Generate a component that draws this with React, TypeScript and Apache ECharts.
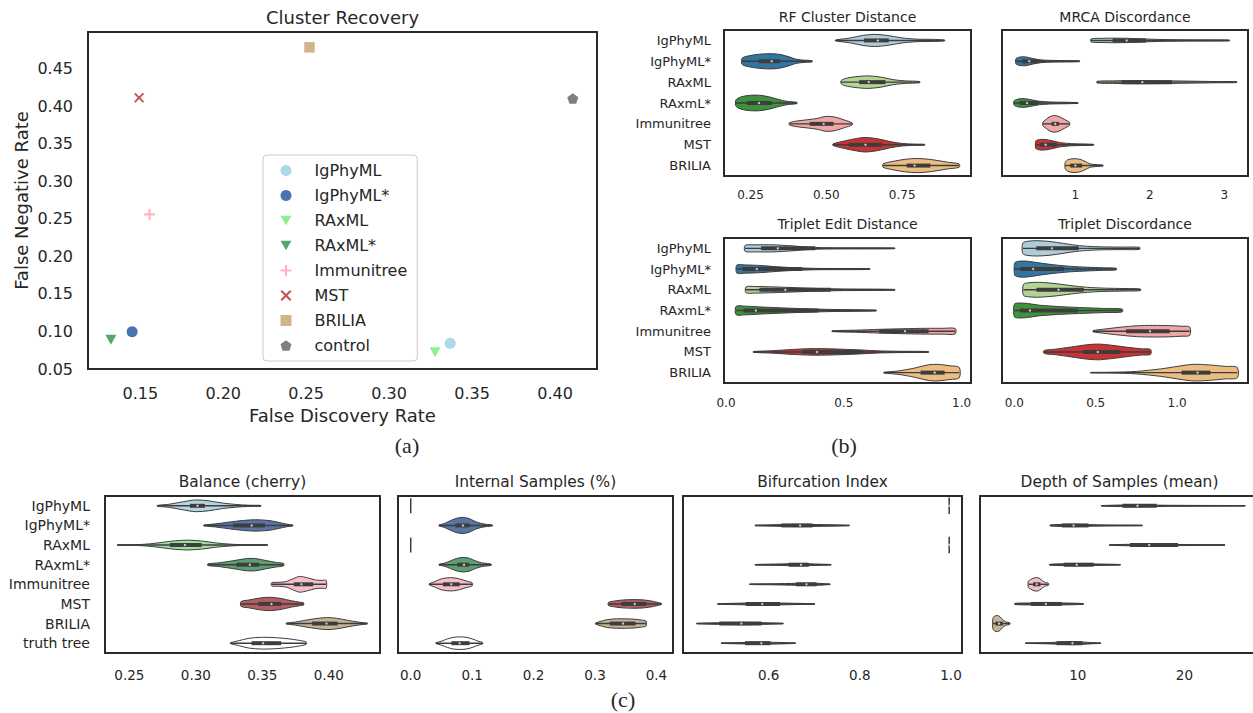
import React, { useEffect, useRef } from 'react';
import * as echarts from 'echarts';

// ---------- Panel (a): Cluster Recovery ----------
const clusterMethods = ['IgPhyML', 'IgPhyML*', 'RAxML', 'RAxML*', 'Immunitree', 'MST', 'BRILIA', 'control'];
const falseDiscoveryRate = [0.3368, 0.1451, 0.3277, 0.1323, 0.1556, 0.1493, 0.252, 0.4107];
const falseNegativeRate = [0.0842, 0.0996, 0.0722, 0.089, 0.256, 0.4113, 0.4786, 0.4104];
const clusterColors = ['#add8e6', '#4c72b0', '#90ee90', '#55a868', '#ffb6c1', '#c44e52', '#d2b48c', '#7f7f7f'];
const fdrTicks = [0.15, 0.2, 0.25, 0.3, 0.35, 0.4];
const fnrTicks = [0.05, 0.1, 0.15, 0.2, 0.25, 0.3, 0.35, 0.4, 0.45];

// ---------- Panel (b) ----------
const methodsB = ['IgPhyML', 'IgPhyML*', 'RAxML', 'RAxmL*', 'Immunitree', 'MST', 'BRILIA'];
const colorsB = ['#aeccdb', '#3275a1', '#b3d495', '#40913b', '#efa6a5', '#ca3335', '#ebbd81'];

// profiles: [value, relative half width]; boxes: [whiskerLow, q1, median, q3, whiskerHigh]
const rfProfiles = [
  [[0.53, 0.02], [0.58, 0.12], [0.62, 0.24], [0.66, 0.29], [0.70, 0.24], [0.75, 0.12], [0.80, 0.06], [0.85, 0.05], [0.89, 0.02]],
  [[0.222, 0.14], [0.24, 0.25], [0.28, 0.34], [0.32, 0.365], [0.35, 0.32], [0.38, 0.2], [0.40, 0.1], [0.43, 0.05], [0.453, 0.03]],
  [[0.549, 0.08], [0.57, 0.2], [0.61, 0.28], [0.64, 0.3], [0.68, 0.24], [0.72, 0.12], [0.76, 0.06], [0.808, 0.03]],
  [[0.202, 0.15], [0.22, 0.3], [0.25, 0.37], [0.28, 0.37], [0.31, 0.3], [0.34, 0.18], [0.37, 0.08], [0.403, 0.03]],
  [[0.378, 0.05], [0.40, 0.13], [0.44, 0.2], [0.47, 0.26], [0.50, 0.36], [0.53, 0.32], [0.56, 0.18], [0.585, 0.05]],
  [[0.522, 0.04], [0.56, 0.18], [0.60, 0.3], [0.63, 0.35], [0.67, 0.28], [0.71, 0.15], [0.75, 0.06], [0.79, 0.03], [0.824, 0.02]],
  [[0.687, 0.08], [0.72, 0.2], [0.76, 0.3], [0.80, 0.34], [0.85, 0.28], [0.90, 0.16], [0.938, 0.08]],
];
const rfBoxes = [
  [0.53, 0.624, 0.67, 0.706, 0.89],
  [0.222, 0.276, 0.32, 0.348, 0.453],
  [0.549, 0.608, 0.64, 0.695, 0.808],
  [0.202, 0.238, 0.278, 0.32, 0.403],
  [0.378, 0.445, 0.491, 0.524, 0.585],
  [0.522, 0.574, 0.629, 0.684, 0.824],
  [0.687, 0.765, 0.791, 0.843, 0.938],
];
const rfTicks = [0.25, 0.5, 0.75];

const mrcaProfiles = [
  [[1.21, 0.07], [1.35, 0.1], [1.55, 0.11], [1.8, 0.09], [2.1, 0.05], [2.5, 0.03], [3.07, 0.02]],
  [[0.2, 0.12], [0.25, 0.2], [0.33, 0.21], [0.42, 0.14], [0.52, 0.07], [0.7, 0.04], [1.056, 0.02]],
  [[1.29, 0.04], [1.5, 0.06], [1.8, 0.075], [2.1, 0.07], [2.5, 0.05], [2.9, 0.03], [3.17, 0.02]],
  [[0.175, 0.1], [0.22, 0.18], [0.3, 0.21], [0.4, 0.16], [0.5, 0.09], [0.65, 0.05], [1.035, 0.02]],
  [[0.563, 0.08], [0.6, 0.2], [0.66, 0.35], [0.72, 0.4], [0.78, 0.35], [0.85, 0.22], [0.9, 0.12], [0.922, 0.06]],
  [[0.468, 0.18], [0.52, 0.25], [0.6, 0.25], [0.7, 0.18], [0.8, 0.1], [0.95, 0.05], [1.245, 0.02]],
  [[0.863, 0.15], [0.9, 0.28], [0.98, 0.33], [1.06, 0.3], [1.13, 0.2], [1.2, 0.08], [1.3, 0.04], [1.372, 0.02]],
];
const mrcaBoxes = [
  [1.21, 1.5, 1.69, 1.95, 3.07],
  [0.2, 0.28, 0.38, 0.52, 1.056],
  [1.29, 1.62, 1.9, 2.3, 3.17],
  [0.175, 0.25, 0.35, 0.5, 1.035],
  [0.563, 0.68, 0.73, 0.78, 0.922],
  [0.468, 0.52, 0.6, 0.75, 1.245],
  [0.863, 0.93, 1.0, 1.09, 1.372],
];
const mrcaTicks = [1, 2, 3];

const tedProfiles = [
  [[0.081, 0.14], [0.12, 0.17], [0.2, 0.17], [0.28, 0.12], [0.36, 0.05], [0.45, 0.03], [0.716, 0.02]],
  [[0.046, 0.19], [0.08, 0.2], [0.15, 0.17], [0.22, 0.11], [0.3, 0.06], [0.4, 0.03], [0.611, 0.02]],
  [[0.085, 0.14], [0.12, 0.16], [0.2, 0.14], [0.3, 0.1], [0.4, 0.06], [0.5, 0.04], [0.717, 0.02]],
  [[0.043, 0.2], [0.08, 0.21], [0.15, 0.17], [0.25, 0.12], [0.35, 0.08], [0.45, 0.05], [0.638, 0.02]],
  [[0.45, 0.02], [0.55, 0.05], [0.65, 0.09], [0.75, 0.12], [0.85, 0.14], [0.92, 0.14], [0.973, 0.13]],
  [[0.116, 0.02], [0.2, 0.06], [0.3, 0.13], [0.38, 0.16], [0.47, 0.14], [0.56, 0.1], [0.65, 0.05], [0.75, 0.03], [0.86, 0.02]],
  [[0.67, 0.02], [0.73, 0.08], [0.8, 0.22], [0.86, 0.38], [0.9, 0.4], [0.95, 0.33], [0.99, 0.25]],
];
const tedBoxes = [
  [0.081, 0.149, 0.22, 0.379, 0.716],
  [0.046, 0.07, 0.131, 0.323, 0.611],
  [0.085, 0.142, 0.252, 0.445, 0.717],
  [0.043, 0.075, 0.127, 0.391, 0.638],
  [0.45, 0.65, 0.76, 0.86, 0.973],
  [0.116, 0.323, 0.387, 0.58, 0.86],
  [0.67, 0.826, 0.886, 0.928, 0.99],
];
const tedTicks = [0, 0.5, 1.0];

const tdProfiles = [
  [[0.052, 0.25], [0.08, 0.34], [0.14, 0.37], [0.22, 0.33], [0.3, 0.24], [0.4, 0.13], [0.5, 0.08], [0.65, 0.06], [0.77, 0.05]],
  [[0.003, 0.3], [0.03, 0.38], [0.08, 0.38], [0.15, 0.3], [0.25, 0.2], [0.35, 0.13], [0.45, 0.09], [0.55, 0.06], [0.626, 0.04]],
  [[0.056, 0.26], [0.09, 0.34], [0.15, 0.36], [0.25, 0.3], [0.35, 0.2], [0.45, 0.12], [0.55, 0.08], [0.68, 0.06], [0.775, 0.04]],
  [[0.0, 0.3], [0.03, 0.36], [0.08, 0.34], [0.15, 0.26], [0.25, 0.2], [0.35, 0.16], [0.45, 0.13], [0.55, 0.1], [0.663, 0.07]],
  [[0.484, 0.03], [0.55, 0.1], [0.65, 0.19], [0.75, 0.26], [0.85, 0.28], [0.95, 0.27], [1.03, 0.24], [1.078, 0.2]],
  [[0.183, 0.07], [0.25, 0.13], [0.35, 0.24], [0.45, 0.35], [0.52, 0.38], [0.6, 0.32], [0.7, 0.22], [0.78, 0.15], [0.837, 0.12]],
  [[0.468, 0.01], [0.6, 0.02], [0.75, 0.06], [0.9, 0.18], [1.0, 0.3], [1.1, 0.4], [1.2, 0.37], [1.3, 0.3], [1.37, 0.25]],
];
const tdBoxes = [
  [0.052, 0.135, 0.231, 0.396, 0.77],
  [0.003, 0.038, 0.116, 0.305, 0.626],
  [0.056, 0.136, 0.272, 0.427, 0.775],
  [0.0, 0.034, 0.096, 0.39, 0.663],
  [0.484, 0.687, 0.834, 0.955, 1.078],
  [0.183, 0.422, 0.513, 0.652, 0.837],
  [0.468, 1.028, 1.126, 1.205, 1.37],
];
const tdTicks = [0, 0.5, 1.0];

// ---------- Panel (c) ----------
const methodsC = ['IgPhyML', 'IgPhyML*', 'RAxML', 'RAxmL*', 'Immunitree', 'MST', 'BRILIA', 'truth tree'];
const colorsC = ['#b4d4df', '#5875a3', '#9ce29c', '#5f9e6e', '#f6bfc7', '#b55d60', '#c9b395', '#ffffff'];

const balanceProfiles = [
  [[0.271, 0.02], [0.28, 0.08], [0.29, 0.2], [0.3, 0.3], [0.31, 0.25], [0.32, 0.14], [0.33, 0.07], [0.34, 0.03], [0.349, 0.02]],
  [[0.306, 0.02], [0.315, 0.08], [0.325, 0.17], [0.335, 0.25], [0.345, 0.29], [0.355, 0.25], [0.362, 0.16], [0.368, 0.07], [0.373, 0.02]],
  [[0.241, 0.01], [0.255, 0.02], [0.265, 0.06], [0.275, 0.14], [0.285, 0.22], [0.295, 0.25], [0.305, 0.2], [0.315, 0.11], [0.325, 0.05], [0.335, 0.02], [0.354, 0.01]],
  [[0.309, 0.04], [0.318, 0.1], [0.328, 0.2], [0.338, 0.31], [0.345, 0.31], [0.352, 0.22], [0.36, 0.12], [0.366, 0.06]],
  [[0.357, 0.08], [0.362, 0.1], [0.368, 0.14], [0.373, 0.28], [0.378, 0.4], [0.384, 0.33], [0.39, 0.22], [0.395, 0.2], [0.398, 0.2]],
  [[0.334, 0.12], [0.34, 0.2], [0.348, 0.3], [0.356, 0.34], [0.364, 0.28], [0.372, 0.16], [0.378, 0.09], [0.381, 0.06]],
  [[0.368, 0.02], [0.375, 0.08], [0.385, 0.2], [0.395, 0.29], [0.402, 0.3], [0.41, 0.22], [0.418, 0.12], [0.425, 0.05], [0.429, 0.02]],
  [[0.326, 0.02], [0.332, 0.12], [0.34, 0.25], [0.35, 0.3], [0.36, 0.28], [0.37, 0.22], [0.378, 0.14], [0.383, 0.06]],
];
const balanceBoxes = [
  [0.271, 0.2956, 0.3013, 0.3068, 0.349],
  [0.306, 0.328, 0.342, 0.352, 0.373],
  [0.241, 0.2805, 0.2918, 0.3043, 0.354],
  [0.309, 0.3306, 0.3406, 0.3478, 0.366],
  [0.357, 0.3737, 0.3794, 0.3882, 0.398],
  [0.334, 0.3469, 0.3569, 0.3642, 0.381],
  [0.368, 0.3875, 0.3983, 0.4066, 0.429],
  [0.326, 0.3419, 0.3506, 0.3642, 0.383],
];
const balanceTicks = [0.25, 0.3, 0.35, 0.4];

const internalProfiles = [
  [[0.0, 0.38]],
  [[0.046, 0.02], [0.055, 0.1], [0.065, 0.25], [0.075, 0.37], [0.085, 0.41], [0.095, 0.35], [0.105, 0.2], [0.115, 0.1], [0.125, 0.05], [0.133, 0.02]],
  [[0.0, 0.38]],
  [[0.046, 0.02], [0.055, 0.08], [0.065, 0.2], [0.075, 0.32], [0.085, 0.37], [0.095, 0.33], [0.105, 0.2], [0.115, 0.1], [0.125, 0.06], [0.131, 0.03]],
  [[0.03, 0.02], [0.04, 0.15], [0.05, 0.28], [0.06, 0.33], [0.07, 0.33], [0.08, 0.27], [0.09, 0.17], [0.1, 0.08]],
  [[0.322, 0.08], [0.33, 0.14], [0.345, 0.2], [0.365, 0.22], [0.38, 0.2], [0.395, 0.13], [0.403, 0.07], [0.408, 0.03]],
  [[0.301, 0.03], [0.31, 0.12], [0.32, 0.2], [0.335, 0.24], [0.35, 0.24], [0.365, 0.22], [0.375, 0.18], [0.383, 0.13]],
  [[0.041, 0.02], [0.05, 0.1], [0.06, 0.22], [0.07, 0.3], [0.08, 0.32], [0.09, 0.3], [0.1, 0.22], [0.11, 0.1], [0.117, 0.04]],
];
const internalBoxes = [
  null,
  [0.046, 0.0728, 0.085, 0.096, 0.133],
  null,
  [0.046, 0.0757, 0.0868, 0.0954, 0.131],
  [0.03, 0.0525, 0.066, 0.0796, 0.1],
  [0.322, 0.343, 0.3647, 0.3837, 0.408],
  [0.301, 0.324, 0.3456, 0.366, 0.383],
  [0.041, 0.0662, 0.0796, 0.0958, 0.117],
];
const internalTicks = [0, 0.1, 0.2, 0.3, 0.4];

const bifProfiles = [
  [[0.996, 0.42]],
  [[0.57, 0.01], [0.62, 0.04], [0.67, 0.06], [0.72, 0.04], [0.777, 0.01]],
  [[0.996, 0.42]],
  [[0.57, 0.01], [0.63, 0.04], [0.67, 0.06], [0.71, 0.03], [0.737, 0.01]],
  [[0.558, 0.01], [0.62, 0.03], [0.68, 0.06], [0.71, 0.05], [0.735, 0.01]],
  [[0.488, 0.01], [0.54, 0.04], [0.59, 0.06], [0.64, 0.04], [0.701, 0.01]],
  [[0.442, 0.01], [0.49, 0.04], [0.54, 0.06], [0.59, 0.04], [0.632, 0.01]],
  [[0.496, 0.01], [0.55, 0.04], [0.58, 0.06], [0.62, 0.04], [0.659, 0.01]],
];
const bifBoxes = [
  [0.996, 0.996, 0.996, 0.996, 0.996],
  [0.57, 0.628, 0.669, 0.696, 0.777],
  [0.996, 0.996, 0.996, 0.996, 0.996],
  [0.57, 0.644, 0.671, 0.688, 0.737],
  [0.558, 0.66, 0.683, 0.705, 0.735],
  [0.488, 0.55, 0.586, 0.625, 0.701],
  [0.442, 0.492, 0.54, 0.584, 0.632],
  [0.496, 0.548, 0.584, 0.604, 0.659],
];
const bifTicks = [0.6, 0.8, 1.0];

const depthProfiles = [
  [[12.2, 0.01], [14, 0.04], [15.5, 0.05], [18, 0.03], [21, 0.02], [25.7, 0.01]],
  [[7.4, 0.02], [8.5, 0.05], [9.6, 0.06], [11, 0.04], [13, 0.02], [16.05, 0.01]],
  [[12.96, 0.01], [15, 0.04], [16.7, 0.05], [19, 0.03], [21.5, 0.02], [23.8, 0.01]],
  [[7.35, 0.02], [8.7, 0.05], [10, 0.06], [11.5, 0.04], [14, 0.01]],
  [[5.36, 0.15], [5.6, 0.25], [6.0, 0.34], [6.3, 0.33], [6.6, 0.22], [6.9, 0.1], [7.25, 0.05]],
  [[4.09, 0.03], [5.5, 0.05], [7, 0.06], [8.5, 0.05], [10.52, 0.02]],
  [[2.03, 0.25], [2.2, 0.38], [2.45, 0.41], [2.7, 0.35], [2.95, 0.2], [3.2, 0.1], [3.45, 0.06], [3.64, 0.03]],
  [[5.09, 0.01], [7, 0.03], [8.5, 0.06], [9.5, 0.08], [10.5, 0.06], [11.3, 0.03], [12.16, 0.01]],
];
const depthBoxes = [
  [12.2, 14.2, 15.6, 17.4, 25.7],
  [7.4, 8.5, 9.6, 11.0, 16.05],
  [12.96, 14.9, 16.7, 19.4, 23.8],
  [7.35, 8.7, 9.9, 11.5, 14.0],
  [5.36, 5.8, 6.15, 6.5, 7.25],
  [4.09, 5.6, 7.0, 8.5, 10.52],
  [2.03, 2.27, 2.61, 2.96, 3.64],
  [5.09, 8.0, 9.5, 10.45, 12.16],
];
const depthTicks = [10, 20];

// ---------- Styling ----------
const FONT = 'DejaVu Sans';
const TXT = '#262626';
const GRAY = '#3d3d3d';
const BORDER = '#2a2a2a';

const SYMBOLS = [
  'circle',
  'circle',
  'path://M0,0L10,0L5,8.66Z',
  'path://M0,0L10,0L5,8.66Z',
  'path://M4,0H6V4H10V6H6V10H4V6H0V4H4Z',
  'path://M1.3,0L5,3.7L8.7,0L10,1.3L6.3,5L10,8.7L8.7,10L5,6.3L1.3,10L0,8.7L3.7,5L0,1.3Z',
  'rect',
  'path://M0.951,0L1.902,0.691L1.539,1.809L0.363,1.809L0,0.691Z',
];
const SYMBOL_SIZES: any[] = [11, 11, [11, 10], [11, 10], 11, 10, 10.5, [11, 10.5]];

function violinRender(profiles: any[], boxes: any[], colors: string[]) {
  return (params: any, api: any) => {
    const i = api.value(1);
    const prof = profiles[i];
    const band = api.size([0, 1])[1];
    const cy = api.coord([prof[0][0], i])[1];
    const children: any[] = [];
    if (prof.length === 1) {
      const x = api.coord([prof[0][0], i])[0];
      const h = prof[0][1] * band;
      children.push({ type: 'line', shape: { x1: x, y1: cy - h, x2: x, y2: cy + h }, style: { stroke: GRAY, lineWidth: 1.5 } });
    } else {
      const pts: number[][] = [];
      for (let k = 0; k < prof.length; k++) pts.push([api.coord([prof[k][0], i])[0], cy - prof[k][1] * band]);
      for (let k = prof.length - 1; k >= 0; k--) pts.push([api.coord([prof[k][0], i])[0], cy + prof[k][1] * band]);
      children.push({ type: 'polygon', shape: { points: pts, smooth: 0.3 }, style: { fill: colors[i], stroke: GRAY, lineWidth: 1 } });
    }
    const b = boxes[i];
    if (b) {
      const xs = b.map((v: number) => api.coord([v, i])[0]);
      children.push({ type: 'line', shape: { x1: xs[0], y1: cy, x2: xs[4], y2: cy }, style: { stroke: GRAY, lineWidth: 1.4 } });
      children.push({ type: 'line', shape: { x1: xs[1], y1: cy, x2: xs[3], y2: cy }, style: { stroke: GRAY, lineWidth: 4 } });
      children.push({ type: 'circle', shape: { cx: xs[2], cy: cy, r: 1.2 }, style: { fill: '#c8c8c8' } });
    }
    return { type: 'group', children };
  };
}

function grid(left: number, top: number, width: number, height: number) {
  return { left, top, width, height, show: true, borderColor: BORDER, borderWidth: 2, backgroundColor: 'transparent', containLabel: false, outerBoundsMode: 'none' };
}

function valueAxis(gridIndex: number, min: number, max: number, ticks: number[], digits: number, fontSize: number, margin: number) {
  return {
    type: 'value', gridIndex, min, max, scale: true,
    axisLine: { show: false }, axisTick: { show: false }, splitLine: { show: false },
    axisLabel: { customValues: ticks, formatter: (v: number) => v.toFixed(digits), fontSize, color: TXT, fontFamily: FONT, margin, showMinLabel: true, showMaxLabel: true },
  };
}

function catAxis(gridIndex: number, data: string[], show: boolean, fontSize: number, margin: number) {
  return {
    type: 'category', gridIndex, data, inverse: true,
    axisLine: { show: false }, axisTick: { show: false }, splitLine: { show: false },
    axisLabel: { show, fontSize, color: TXT, fontFamily: FONT, margin, interval: 0 },
  };
}

function violinSeries(axisIndex: number, profiles: any[], boxes: any[], colors: string[]) {
  return {
    type: 'custom', xAxisIndex: axisIndex, yAxisIndex: axisIndex,
    data: profiles.map((p: any, i: number) => [p[0][0], i]),
    encode: { x: 0, y: 1 },
    renderItem: violinRender(profiles, boxes, colors),
    silent: true,
  };
}

function label(x: number, y: number, text: string, fontSize: number, family = FONT, rotation = 0) {
  return {
    type: 'text', x, y, rotation, silent: true,
    style: { text, fontSize, fontFamily: family, fill: TXT, align: 'center', verticalAlign: 'middle' },
  };
}

export default function App() {
  const ref = useRef<HTMLDivElement>(null);
  useEffect(() => {
    if (!ref.current) return;
    const chart = echarts.init(ref.current, undefined, { renderer: 'svg' });
    const scatterSeries = clusterMethods.map((name, i) => ({
      name, type: 'scatter', xAxisIndex: 0, yAxisIndex: 0,
      data: [[falseDiscoveryRate[i], falseNegativeRate[i]]],
      symbol: SYMBOLS[i], symbolSize: SYMBOL_SIZES[i],
      itemStyle: { color: clusterColors[i], opacity: 1 },
    }));
    const option: any = {
      animation: false,
      backgroundColor: '#ffffff',
      textStyle: { fontFamily: FONT },
      grid: [
        grid(88, 32, 509, 337),
        grid(724, 30, 247, 146),
        grid(1002, 30, 246, 146),
        grid(724, 238, 247, 145),
        grid(1002, 238, 246, 145),
        grid(105, 496, 275, 157),
        grid(398, 496, 275, 157),
        grid(683, 496, 279, 157),
        grid(980, 496, 279, 157),
      ],
      xAxis: [
        valueAxis(0, 0.1185, 0.4253, fdrTicks, 2, 16, 16),
        valueAxis(1, 0.1625, 0.977, rfTicks, 2, 12, 13),
        valueAxis(2, 0.0132, 3.32, mrcaTicks, 0, 12, 13),
        valueAxis(3, -0.0084, 1.04, tedTicks, 1, 12, 14),
        valueAxis(4, -0.0756, 1.436, tdTicks, 1, 12, 14),
        valueAxis(5, 0.2317, 0.4385, balanceTicks, 2, 13.5, 15),
        valueAxis(6, -0.0207, 0.427, internalTicks, 1, 13.5, 15),
        valueAxis(7, 0.4121, 1.0241, bifTicks, 1, 13.5, 15),
        valueAxis(8, 0.825, 27.0, depthTicks, 0, 13.5, 15),
      ],
      yAxis: [
        {
          type: 'value', gridIndex: 0, min: 0.05, max: 0.499,
          axisLine: { show: false }, axisTick: { show: false }, splitLine: { show: false },
          axisLabel: { customValues: fnrTicks, formatter: (v: number) => v.toFixed(2), fontSize: 16, color: TXT, fontFamily: FONT, margin: 15 },
        },
        catAxis(1, methodsB, true, 13, 13),
        catAxis(2, methodsB, false, 13, 13),
        catAxis(3, methodsB, true, 13, 13),
        catAxis(4, methodsB, false, 13, 13),
        catAxis(5, methodsC, true, 14, 15),
        catAxis(6, methodsC, false, 14, 15),
        catAxis(7, methodsC, false, 14, 15),
        catAxis(8, methodsC, false, 14, 15),
      ],
      legend: {
        orient: 'vertical', left: 263, top: 155,
        padding: [7.5, 10, 7.5, 17.5],
        itemWidth: 11, itemHeight: 11, itemGap: 9,
        backgroundColor: '#ffffff', borderColor: '#cccccc', borderWidth: 1, borderRadius: 4,
        selectedMode: false,
        textStyle: { fontSize: 16, color: TXT, fontFamily: FONT, padding: [0, 0, 0, 18], lineHeight: 16 },
        data: clusterMethods,
      },
      series: [
        ...scatterSeries,
        violinSeries(1, rfProfiles, rfBoxes, colorsB),
        violinSeries(2, mrcaProfiles, mrcaBoxes, colorsB),
        violinSeries(3, tedProfiles, tedBoxes, colorsB),
        violinSeries(4, tdProfiles, tdBoxes, colorsB),
        violinSeries(5, balanceProfiles, balanceBoxes, colorsC),
        violinSeries(6, internalProfiles, internalBoxes, colorsC),
        violinSeries(7, bifProfiles, bifBoxes, colorsC),
        violinSeries(8, depthProfiles, depthBoxes, colorsC),
      ],
      graphic: [
        label(342.5, 17, 'Cluster Recovery', 18),
        label(21, 200.5, 'False Negative Rate', 18, FONT, Math.PI / 2),
        label(342.5, 415, 'False Discovery Rate', 18),
        label(407, 445, '(a)', 22, 'Liberation Serif'),
        label(847.5, 17, 'RF Cluster Distance', 14),
        label(1125, 17, 'MRCA Discordance', 14),
        label(847.5, 224, 'Triplet Edit Distance', 14),
        label(1125, 224, 'Triplet Discordance', 14),
        label(844, 445, '(b)', 22, 'Liberation Serif'),
        label(242.5, 481.7, 'Balance (cherry)', 15.4),
        label(535.5, 481.7, 'Internal Samples (%)', 15.4),
        label(822.5, 481.7, 'Bifurcation Index', 15.4),
        label(1119.5, 481.7, 'Depth of Samples (mean)', 15.4),
        label(623, 699, '(c)', 22, 'Liberation Serif'),
      ],
    };
    chart.setOption(option);
    return () => chart.dispose();
  }, []);
  return <div ref={ref} style={{ position: 'fixed', left: 0, top: 0, width: 1253, height: 713, background: '#fff' }} />;
}
